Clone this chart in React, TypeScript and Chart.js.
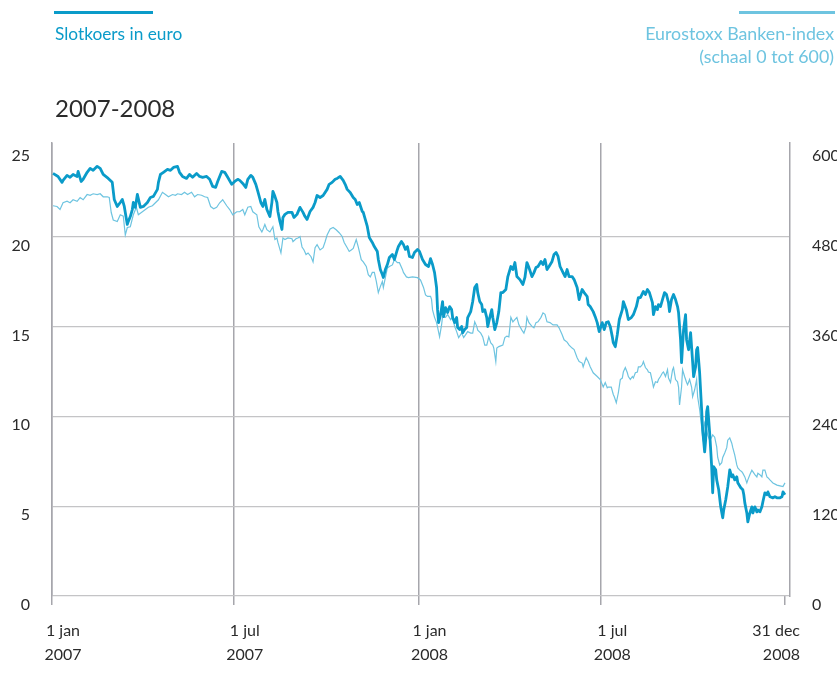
import React, { useEffect, useRef } from "react";
import { Chart, registerables } from "chart.js";

Chart.register(...registerables);

// ---- data (days since 1 jan 2007) ----
const tickDays = [0, 181, 365, 547, 730];
const tickLines1 = ["1 jan", "1 jul", "1 jan", "1 jul", "31 dec"];
const tickLines2 = ["2007", "2007", "2008", "2008", "2008"];
const leftTicks = [0, 5, 10, 15, 20, 25];
const rightTicks = [0, 120, 240, 360, 480, 600];

const koersDays = [
  1, 6, 10, 11, 15, 18, 21, 25, 26, 29, 31, 35, 38, 41, 45, 48, 51, 56, 60, 62, 65, 68, 70, 72, 75, 76, 78, 80, 81, 83,
  85, 88, 91, 95, 98, 101, 105, 106, 108, 111, 115, 118, 121, 125, 127, 130, 134, 137, 140, 144, 147, 150, 154, 157, 160,
  163, 165, 169, 172, 175, 179, 182, 185, 187, 190, 193, 195, 198, 200, 203, 205, 208, 210, 212, 214, 217, 219, 220, 222,
  224, 225, 227, 229, 230, 232, 235, 239, 241, 244, 247, 250, 252, 254, 257, 260, 262, 264, 267, 270, 274, 276, 279, 282,
  284, 287, 290, 292, 294, 297, 300, 302, 304, 306, 309, 310, 312, 314, 316, 319, 321, 324, 325, 327, 329, 330, 332, 334,
  336, 339, 341, 344, 345, 348, 350, 352, 354, 356, 359, 361, 364, 366, 369, 372, 375, 377, 379, 381, 383, 384, 385, 387,
  389, 390, 392, 394, 396, 398, 399, 401, 403, 404, 406, 408, 409, 411, 413, 414, 417, 419, 421, 423, 424, 426, 428, 429,
  431, 433, 434, 436, 438, 439, 441, 443, 445, 447, 449, 452, 454, 457, 459, 461, 463, 466, 469, 471, 473, 475, 478, 480,
  482, 484, 487, 489, 491, 493, 495, 498, 500, 502, 504, 506, 509, 511, 513, 515, 518, 520, 523, 525, 528, 530, 533, 534,
  536, 539, 541, 543, 545, 548, 550, 552, 554, 556, 558, 559, 561, 563, 565, 568, 569, 572, 574, 577, 579, 582, 584, 586,
  589, 591, 593, 595, 598, 599, 601, 603, 604, 606, 608, 610, 612, 614, 615, 617, 619, 621, 623, 624, 626, 627, 629, 631,
  632, 634, 636, 638, 639, 641, 642, 643, 645, 647, 648, 650, 651, 652, 653, 655, 657, 658, 659, 661, 662, 664, 666, 668,
  669, 671, 673, 675, 677, 678, 680, 682, 683, 686, 688, 689, 690, 692, 693, 695, 697, 698, 700, 702, 703, 705, 707, 708,
  710, 712, 713, 715, 718, 720, 722, 725, 727, 728, 730,
];
const koersValues = [
  23.51, 23.34, 23.01, 23.12, 23.4, 23.29, 23.45, 23.34, 23.62, 23.06, 23.18, 23.57, 23.79, 23.68, 23.9, 23.79, 23.45,
  23.23, 23.01, 22.06, 21.67, 21.89, 22.06, 21.67, 20.67, 20.84, 21.11, 21.5, 21.89, 21.62, 22.34, 21.62, 21.67, 21.89,
  22.17, 22.23, 22.62, 23.01, 23.45, 23.57, 23.73, 23.68, 23.84, 23.9, 23.57, 23.34, 23.23, 23.45, 23.29, 23.51, 23.34,
  23.29, 23.34, 23.18, 22.79, 22.73, 23.06, 23.62, 23.57, 23.29, 22.9, 23.06, 23.18, 23.12, 22.95, 22.73, 23.18, 23.4,
  23.29, 22.9, 22.51, 21.89, 21.67, 22.06, 21.5, 21.11, 21.89, 22.51, 22.23, 21.89, 21.39, 20.84, 20.39, 21.06, 21.23,
  21.34, 21.34, 21.06, 21.23, 21.62, 21.34, 21.11, 20.95, 21.39, 21.62, 21.89, 22.28, 22.17, 22.28, 22.62, 22.9, 23.01,
  23.18, 23.23, 23.34, 23.12, 22.9, 22.62, 22.45, 22.17, 22.06, 21.78, 21.89, 21.39, 21.34, 20.95, 20.56, 19.94, 19.67,
  19.44, 19.16, 18.72, 18.16, 17.88, 17.72, 18.16, 18.44, 18.83, 19.0, 18.72, 19.28, 19.44, 19.72, 19.55, 19.28, 19.44,
  18.89, 18.83, 19.11, 19.28, 19.16, 18.72, 18.44, 18.33, 18.77, 18.44, 17.99, 17.16, 15.93, 15.21, 15.65, 16.38, 15.54,
  16.04, 15.77, 16.1, 15.93, 15.49, 15.21, 15.49, 14.93, 14.82, 14.99, 14.65, 14.82, 14.93, 15.49, 15.82, 16.38, 17.16,
  17.33, 16.88, 16.38, 16.21, 15.82, 15.93, 15.49, 14.99, 15.49, 15.93, 15.49, 14.82, 15.21, 15.82, 16.88, 16.88, 17.05,
  17.77, 18.33, 18.16, 18.55, 17.77, 17.6, 17.33, 17.72, 18.55, 18.27, 17.77, 17.99, 18.27, 18.33, 18.61, 18.44, 18.72,
  18.16, 18.33, 18.61, 19.0, 19.11, 18.89, 18.33, 17.99, 17.77, 18.16, 17.77, 17.77, 17.6, 17.16, 16.49, 17.05, 16.88,
  16.66, 16.21, 16.1, 15.82, 15.54, 15.21, 14.71, 15.21, 14.82, 15.21, 15.26, 14.99, 14.43, 14.09, 13.87, 14.54, 15.38,
  15.93, 16.38, 15.93, 15.38, 15.49, 15.65, 16.1, 16.6, 16.6, 16.94, 16.77, 17.05, 16.88, 16.32, 15.65, 16.1, 15.93,
  16.21, 16.1, 16.49, 16.88, 16.77, 16.32, 15.82, 16.49, 16.77, 16.49, 16.1, 15.77, 14.26, 12.98, 14.82, 15.65, 14.26,
  13.7, 14.65, 13.04, 12.2, 12.76, 13.7, 13.82, 12.42, 10.36, 9.25, 8.02, 8.69, 10.25, 10.53, 9.08, 7.19, 5.74, 7.19,
  7.02, 6.46, 5.91, 4.96, 4.35, 4.79, 5.35, 6.07, 7.02, 6.63, 6.74, 6.46, 6.63, 6.3, 6.02, 5.91, 5.63, 5.18, 4.62, 4.12,
  4.62, 4.96, 4.62, 4.96, 4.68, 4.79, 4.68, 4.96, 5.24, 5.74, 5.63, 5.79, 5.52, 5.46, 5.52, 5.46, 5.46, 5.52, 5.79, 5.63,
];

const indexDays = [
  1, 5, 8, 11, 15, 18, 21, 25, 28, 31, 35, 38, 41, 45, 48, 51, 55, 57, 59, 61, 65, 68, 71, 73, 75, 78, 81, 84, 86, 90, 93,
  96, 100, 103, 106, 110, 113, 116, 120, 123, 125, 129, 132, 135, 139, 142, 145, 149, 152, 155, 158, 161, 164, 167, 170,
  174, 177, 180, 184, 187, 190, 192, 195, 198, 200, 204, 206, 209, 210, 212, 214, 217, 220, 222, 224, 225, 228, 230, 232,
  235, 239, 240, 243, 245, 247, 249, 251, 253, 255, 258, 260, 262, 264, 267, 270, 272, 274, 277, 280, 283, 286, 289, 291,
  294, 296, 298, 300, 303, 305, 308, 310, 313, 315, 317, 319, 321, 323, 325, 327, 329, 330, 332, 334, 336, 339, 341, 344,
  346, 349, 350, 353, 355, 359, 364, 367, 370, 372, 374, 377, 378, 379, 381, 383, 384, 386, 388, 389, 392, 394, 397, 399,
  401, 403, 405, 408, 410, 412, 414, 417, 419, 421, 423, 424, 427, 429, 431, 433, 435, 437, 439, 440, 442, 443, 445, 449,
  451, 453, 455, 457, 459, 461, 463, 465, 468, 470, 472, 473, 475, 478, 480, 482, 484, 487, 489, 491, 493, 496, 499, 503,
  505, 508, 510, 513, 515, 518, 520, 523, 525, 528, 529, 532, 534, 536, 539, 543, 546, 549, 551, 553, 554, 557, 559, 560,
  562, 564, 566, 568, 569, 571, 573, 574, 576, 578, 579, 581, 583, 584, 586, 588, 589, 591, 593, 594, 596, 598, 599, 601,
  603, 604, 606, 608, 609, 611, 613, 614, 616, 618, 619, 621, 623, 624, 625, 627, 628, 630, 632, 633, 635, 637, 638, 640,
  642, 643, 645, 647, 648, 650, 652, 653, 655, 657, 658, 660, 662, 663, 665, 667, 668, 670, 672, 673, 675, 677, 678, 680,
  682, 683, 685, 687, 688, 690, 692, 693, 695, 697, 698, 700, 702, 703, 705, 707, 708, 710, 712, 713, 715, 718, 722, 725,
  728, 730,
];
const indexValues = [
  521, 520, 516, 525, 527, 525, 529, 527, 532, 529, 536, 535, 537, 536, 537, 533, 533, 532, 512, 502, 500, 509, 507, 482,
  492, 493, 509, 519, 509, 513, 516, 519, 521, 525, 529, 539, 536, 533, 536, 535, 537, 536, 539, 536, 539, 533, 536, 535,
  533, 532, 520, 517, 519, 525, 529, 521, 516, 509, 513, 513, 516, 509, 519, 520, 513, 509, 493, 486, 489, 496, 489, 486,
  493, 476, 478, 472, 458, 478, 476, 478, 477, 473, 477, 478, 480, 466, 462, 456, 458, 453, 446, 465, 469, 462, 465, 473,
  482, 490, 492, 489, 485, 480, 472, 465, 460, 462, 464, 476, 466, 449, 446, 440, 429, 426, 432, 432, 420, 405, 413, 420,
  412, 425, 438, 440, 442, 449, 445, 445, 436, 432, 426, 425, 426, 425, 422, 412, 402, 400, 400, 396, 382, 372, 365, 359,
  346, 362, 373, 372, 376, 369, 372, 360, 353, 345, 351, 345, 349, 353, 351, 351, 366, 360, 355, 351, 346, 335, 335, 346,
  338, 335, 331, 313, 331, 333, 335, 345, 347, 346, 372, 366, 369, 372, 362, 355, 351, 359, 372, 365, 360, 358, 365, 366,
  372, 378, 376, 366, 365, 362, 362, 358, 349, 342, 339, 335, 331, 329, 318, 313, 311, 306, 318, 313, 306, 298, 293, 289,
  279, 285, 278, 279, 279, 269, 266, 258, 271, 289, 291, 299, 305, 298, 293, 289, 293, 291, 298, 299, 306, 306, 309, 313,
  305, 302, 299, 298, 286, 279, 286, 285, 289, 293, 298, 299, 293, 302, 291, 285, 302, 305, 289, 286, 279, 255, 279, 302,
  293, 285, 282, 289, 279, 266, 275, 289, 266, 249, 226, 212, 231, 222, 215, 208, 212, 215, 212, 199, 185, 175, 178, 185,
  191, 198, 208, 211, 204, 198, 188, 175, 171, 168, 166, 164, 159, 151, 155, 162, 168, 166, 162, 159, 164, 162, 159, 168,
  168, 159, 158, 155, 151, 148, 147, 146, 151,
];

// ---- styles ----
const FONT = "Lato, 'Open Sans', sans-serif";
const DARK = "#0a9bc9";
const LIGHT = "#6ec4e0";
const GRID_H = "#c4c4c6";
const GRID_V = "#a6a6ac";
const TEXT = "#2b2b2b";

const xLabelPlugin = {
  id: "xLabels",
  afterDraw(chart: any) {
    const sc = chart.scales.x;
    const ctx = chart.ctx;
    const bottom = chart.chartArea.bottom;
    ctx.save();
    ctx.font = `16px ${FONT}`;
    ctx.fillStyle = TEXT;
    ctx.textBaseline = "alphabetic";
    tickDays.forEach((d, i) => {
      const px = sc.getPixelForValue(d);
      const last = i === tickDays.length - 1;
      ctx.textAlign = last ? "right" : "center";
      const tx = last ? px + 15 : px + 11;
      ctx.fillText(tickLines1[i], tx, bottom + 40);
      ctx.fillText(tickLines2[i], tx, bottom + 64);
    });
    ctx.restore();
  },
};

export default function App() {
  const ref = useRef<HTMLCanvasElement>(null);

  useEffect(() => {
    const koers = koersDays.map((d, i) => ({ x: d, y: koersValues[i] }));
    const index = indexDays.map((d, i) => ({ x: d, y: indexValues[i] }));
    const leftMax = 25.2;
    const chart = new Chart(ref.current as HTMLCanvasElement, {
      type: "line",
      data: {
        datasets: [
          {
            label: "Slotkoers in euro",
            data: koers,
            yAxisID: "y",
            borderColor: DARK,
            borderWidth: 2.8,
            pointRadius: 0,
            tension: 0,
            order: 0,
            borderJoinStyle: "round",
          },
          {
            label: "Eurostoxx Banken-index",
            data: index,
            yAxisID: "y2",
            borderColor: LIGHT,
            borderWidth: 1.2,
            pointRadius: 0,
            tension: 0,
            order: 1,
          },
        ],
      },
      options: {
        animation: false,
        responsive: false,
        devicePixelRatio: 1,
        layout: { padding: { top: 143, left: 0, right: 0, bottom: 0 } },
        plugins: { legend: { display: false }, tooltip: { enabled: false } },
        scales: {
          x: {
            type: "linear",
            min: 0,
            max: 735,
            afterBuildTicks: (s: any) => {
              s.ticks = tickDays.map((v) => ({ value: v }));
            },
            afterFit: (s: any) => {
              s.height = 89;
            },
            ticks: { display: false },
            border: { display: false },
            grid: {
              color: (c: any) => (c.tick && c.tick.value === 730 ? "rgba(0,0,0,0)" : GRID_V),
              tickColor: GRID_V,
              tickLength: 9,
              lineWidth: 1.5,
              drawTicks: true,
            },
          },
          y: {
            position: "left",
            min: 0,
            max: leftMax,
            afterBuildTicks: (s: any) => {
              s.ticks = leftTicks.map((v) => ({ value: v }));
            },
            afterFit: (s: any) => {
              s.width = 52;
            },
            ticks: {
              padding: 22,
              labelOffset: 9,
              color: TEXT,
              font: { family: FONT, size: 16 },
            },
            grid: {
              color: (c: any) => (c.tick && c.tick.value === 25 ? "rgba(0,0,0,0)" : GRID_H),
              lineWidth: 1.2,
              drawTicks: false,
            },
            border: { display: true, color: GRID_V, width: 1.5 },
          },
          y2: {
            position: "right",
            min: 0,
            max: leftMax * 24,
            afterBuildTicks: (s: any) => {
              s.ticks = rightTicks.map((v) => ({ value: v }));
            },
            afterFit: (s: any) => {
              s.width = 47;
            },
            ticks: {
              padding: 22,
              labelOffset: 9,
              color: TEXT,
              font: { family: FONT, size: 16 },
            },
            grid: { display: true, drawOnChartArea: false, drawTicks: false },
            border: { display: true, color: GRID_V, width: 1.5 },
          },
        },
      },
      plugins: [xLabelPlugin],
    } as any);
    return () => chart.destroy();
  }, []);

  return (
    <div
      style={{
        position: "fixed",
        left: 0,
        top: 0,
        width: 837,
        height: 685,
        background: "#fff",
        overflow: "hidden",
        fontFamily: FONT,
      }}
    >
      <canvas ref={ref} width={837} height={685} style={{ position: "absolute", left: 0, top: 0 }} />
      <div style={{ position: "absolute", left: 54, top: 11, width: 99, height: 3, background: DARK }} />
      <div
        style={{
          position: "absolute",
          left: 55,
          top: 25,
          fontSize: 17.3,
          lineHeight: "17px",
          color: DARK,
          whiteSpace: "nowrap",
        }}
      >
        Slotkoers in euro
      </div>
      <div style={{ position: "absolute", left: 739, top: 11, width: 96, height: 2.5, background: LIGHT }} />
      <div
        style={{
          position: "absolute",
          right: 3,
          top: 22,
          fontSize: 17.8,
          lineHeight: "23px",
          color: LIGHT,
          textAlign: "right",
          whiteSpace: "nowrap",
        }}
      >
        Eurostoxx Banken-index
        <br />
        (schaal 0 tot 600)
      </div>
      <div
        style={{
          position: "absolute",
          left: 55,
          top: 96,
          fontSize: 24,
          lineHeight: "24px",
          color: TEXT,
          whiteSpace: "nowrap",
        }}
      >
        2007-2008
      </div>
    </div>
  );
}
